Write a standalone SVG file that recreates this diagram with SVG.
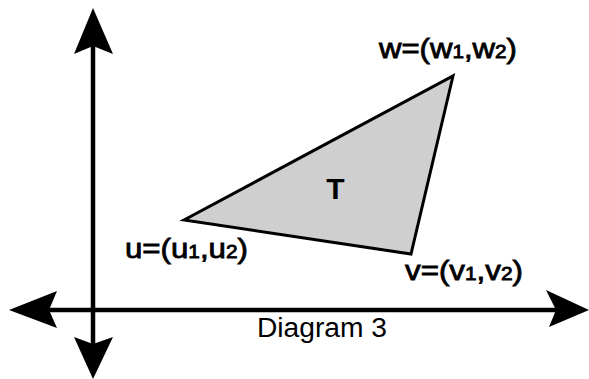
<svg xmlns="http://www.w3.org/2000/svg" width="589" height="379" viewBox="0 0 589 379">
<style>
.axis{stroke:#000;stroke-width:4.5;fill:none}
.head{fill:#000;stroke:none}
.lbl{font-family:"Liberation Sans",Arial,sans-serif;font-size:27px;fill:#000;stroke:#000;stroke-width:0.8}
.sub{font-size:18px}
.cap{font-family:"Liberation Sans",Arial,sans-serif;font-size:27px;fill:#000}
.tri{fill:#cfcfcf;stroke:#000;stroke-width:3;stroke-linejoin:miter}
.t{font-family:"Liberation Sans",Arial,sans-serif;font-size:30px;font-weight:bold;fill:#000}
</style>
<rect width="589" height="379" fill="#fff"/>
<g id="axes">
<line class="axis" x1="93" y1="30" x2="93" y2="355"/>
<line class="axis" x1="30" y1="310" x2="570" y2="310"/>
<polygon class="head" points="93,8 113,54 93,46 74,54"/>
<polygon class="head" points="93,379 113,337 93,344 74,337"/>
<polygon class="head" points="9,310 57,291 49,310 57,328"/>
<polygon class="head" points="589,310 546,290 556,310 549,327"/>
</g>
<g id="triangle">
<polygon class="tri" points="184,220 453,76 411,254"/>
<text class="t" x="335.5" y="199" text-anchor="middle">T</text>
</g>
<g id="label-w">
<text class="lbl" x="379" y="58" textLength="138" lengthAdjust="spacingAndGlyphs">w=(w<tspan class="sub">1</tspan>,w<tspan class="sub">2</tspan>)</text>
</g>
<g id="label-u">
<text class="lbl" x="125" y="258" textLength="123" lengthAdjust="spacingAndGlyphs">u=(u<tspan class="sub">1</tspan>,u<tspan class="sub">2</tspan>)</text>
</g>
<g id="label-v">
<text class="lbl" x="405" y="280" textLength="118" lengthAdjust="spacingAndGlyphs">v=(v<tspan class="sub">1</tspan>,v<tspan class="sub">2</tspan>)</text>
</g>
<g id="caption">
<text class="cap" x="257" y="337" textLength="130" lengthAdjust="spacingAndGlyphs">Diagram 3</text>
</g>
</svg>
